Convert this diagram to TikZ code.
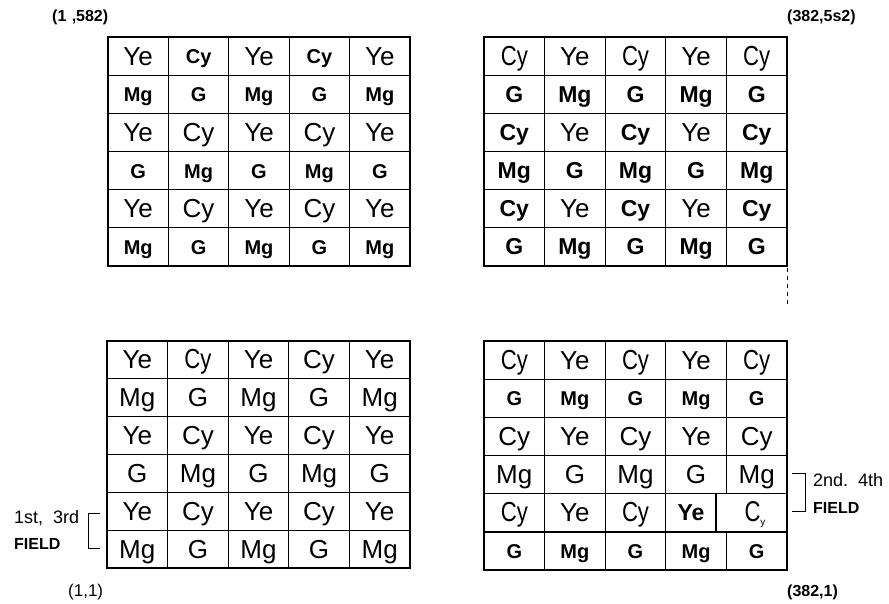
\documentclass[tikz,border=0pt]{standalone}
\usepackage{fontspec}
\setmainfont{Liberation Sans}
\usepackage{graphicx}
\newcommand\ncy{\scalebox{0.85}[1.06]{Cy}}
\newcommand\csub{\scalebox{0.85}[1.1]{C}\raisebox{-4pt}{\fontsize{10}{10}\selectfont y}}
\tikzset{
  gl/.style={line width=1.3pt, black},
  cell/.style={inner sep=0pt, anchor=base},
  R/.style={cell, yshift=-9pt, font=\fontsize{26}{28}\selectfont},
  B/.style={cell, yshift=-7.5pt, font=\fontsize{20}{22}\selectfont\bfseries},
  BM/.style={cell, yshift=-8pt, font=\fontsize{23}{25}\selectfont\bfseries},
  lbl/.style={inner sep=0pt, anchor=base west},
  coordbold/.style={lbl, font=\fontsize{16}{18}\selectfont\bfseries},
  coordreg/.style={lbl, font=\fontsize{17}{19}\selectfont},
  fieldtxt/.style={lbl, font=\fontsize{18}{20}\selectfont},
  fieldbold/.style={lbl, font=\fontsize{16}{18}\selectfont\bfseries},
  brk/.style={line width=1pt, black},
}
% #1 prefix, #2 x0, #3 y0, #4 cell w, #5 cell h, #6 row, #7 list
\newcommand\gridrow[7]{%
  \foreach \sty/\txt [count=\c] in {#7} {
    \node[\sty] (#1-#6-\c) at ({#2+(\c-0.5)*#4}, {#3+(#6-0.5)*#5}) {\txt};
  }%
}
% #1 x0 #2 y0 #3 x1 #4 y1
\newcommand\gridlines[4]{%
  \draw[gl] (#1,#2) rectangle (#3,#4);
  \foreach \i in {1,...,4} \draw[gl] ({#1+\i*(#3-#1)/5},#2) -- ({#1+\i*(#3-#1)/5},#4);
  \foreach \j in {1,...,5} \draw[gl] (#1,{#2+\j*(#4-#2)/6}) -- (#3,{#2+\j*(#4-#2)/6});
}
\begin{document}
\begin{tikzpicture}[x=1pt,y=-1pt]
\useasboundingbox (0,0) rectangle (889,604);

% ---------- top left ----------
\gridlines{108}{37}{410}{266}
\gridrow{tl}{108}{37}{60.4}{38.17}{1}{R/Ye,B/Cy,R/Ye,B/Cy,R/Ye}
\gridrow{tl}{108}{37}{60.4}{38.17}{2}{B/Mg,B/G,B/Mg,B/G,B/Mg}
\gridrow{tl}{108}{37}{60.4}{38.17}{3}{R/Ye,R/Cy,R/Ye,R/Cy,R/Ye}
\gridrow{tl}{108}{37}{60.4}{38.17}{4}{B/G,B/Mg,B/G,B/Mg,B/G}
\gridrow{tl}{108}{37}{60.4}{38.17}{5}{R/Ye,R/Cy,R/Ye,R/Cy,R/Ye}
\gridrow{tl}{108}{37}{60.4}{38.17}{6}{B/Mg,B/G,B/Mg,B/G,B/Mg}

% ---------- top right ----------
\gridlines{484}{37}{787}{266}
\gridrow{tr}{484}{37}{60.6}{38.17}{1}{R/\ncy,R/Ye,R/\ncy,R/Ye,R/\ncy}
\gridrow{tr}{484}{37}{60.6}{38.17}{2}{BM/G,BM/Mg,BM/G,BM/Mg,BM/G}
\gridrow{tr}{484}{37}{60.6}{38.17}{3}{BM/Cy,R/Ye,BM/Cy,R/Ye,BM/Cy}
\gridrow{tr}{484}{37}{60.6}{38.17}{4}{BM/Mg,BM/G,BM/Mg,BM/G,BM/Mg}
\gridrow{tr}{484}{37}{60.6}{38.17}{5}{BM/Cy,R/Ye,BM/Cy,R/Ye,BM/Cy}
\gridrow{tr}{484}{37}{60.6}{38.17}{6}{BM/G,BM/Mg,BM/G,BM/Mg,BM/G}
\coordinate (dA) at (787,268);
\coordinate (dB) at (787,304);
\draw[line width=1pt, dash pattern=on 4pt off 4pt] (dA) -- (dB);

% ---------- bottom left ----------
\gridlines{107}{341}{410}{568}
\gridrow{bl}{107}{341}{60.6}{37.83}{1}{R/Ye,R/\ncy,R/Ye,R/Cy,R/Ye}
\gridrow{bl}{107}{341}{60.6}{37.83}{2}{R/Mg,R/G,R/Mg,R/G,R/Mg}
\gridrow{bl}{107}{341}{60.6}{37.83}{3}{R/Ye,R/Cy,R/Ye,R/Cy,R/Ye}
\gridrow{bl}{107}{341}{60.6}{37.83}{4}{R/G,R/Mg,R/G,R/Mg,R/G}
\gridrow{bl}{107}{341}{60.6}{37.83}{5}{R/Ye,R/Cy,R/Ye,R/Cy,R/Ye}
\gridrow{bl}{107}{341}{60.6}{37.83}{6}{R/Mg,R/G,R/Mg,R/G,R/Mg}

% ---------- bottom right ----------
\draw[gl] (484,341) rectangle (787,570);
\foreach \j in {1,...,5} \draw[gl] (484,{341+\j*38.17}) -- (787,{341+\j*38.17});
\foreach \i in {1,2,3} \draw[gl] ({484+\i*60.6},341) -- ({484+\i*60.6},570);
\draw[gl] (726.4,341) -- (726.4,493.7);
\draw[gl] (716,493.7) -- (716,531.8);
\draw[gl] (726.4,531.8) -- (726.4,570);
\gridrow{br}{484}{341}{60.6}{38.17}{1}{R/\ncy,R/Ye,R/\ncy,R/Ye,R/\ncy}
\gridrow{br}{484}{341}{60.6}{38.17}{2}{B/G,B/Mg,B/G,B/Mg,B/G}
\gridrow{br}{484}{341}{60.6}{38.17}{3}{R/Cy,R/Ye,R/Cy,R/Ye,R/Cy}
\gridrow{br}{484}{341}{60.6}{38.17}{4}{R/Mg,R/G,R/Mg,R/G,R/Mg}
\gridrow{br}{484}{341}{60.6}{38.17}{5}{R/\ncy,R/Ye,R/\ncy}
\node[BM] (br-5-4) at (691,512.7) {Ye};
\node[R] (br-5-5) at (755,512.7) {\csub};
\gridrow{br}{484}{341}{60.6}{38.17}{6}{B/G,B/Mg,B/G,B/Mg,B/G}

% ---------- coordinate labels ----------
\node[coordbold] (lTL) at (52,22) {(1\,\,,582)};
\node[coordbold] (lTR) at (787,22) {(382,5s2)};
\node[coordreg] (lBL) at (68,596) {(1,1)};
\node[coordbold] (lBR) at (787,596) {(382,1)};

% ---------- field brackets ----------
\node[fieldtxt] (f13) at (14,523) {1st,\ \ 3rd};
\node[fieldbold] (f13b) at (14,549) {FIELD};
\coordinate (a1) at (100,513);
\coordinate (a2) at (88,513);
\coordinate (a3) at (88,548);
\coordinate (a4) at (100,548);
\draw[brk] (a1) -- (a2) -- (a3) -- (a4);

\node[fieldtxt] (f24) at (813,486) {2nd.\ \ 4th};
\node[fieldbold] (f24b) at (813,513) {FIELD};
\coordinate (b1) at (792,473);
\coordinate (b2) at (805,473);
\coordinate (b3) at (805,511);
\coordinate (b4) at (792,511);
\draw[brk] (b1) -- (b2) -- (b3) -- (b4);
\end{tikzpicture}
\end{document}
